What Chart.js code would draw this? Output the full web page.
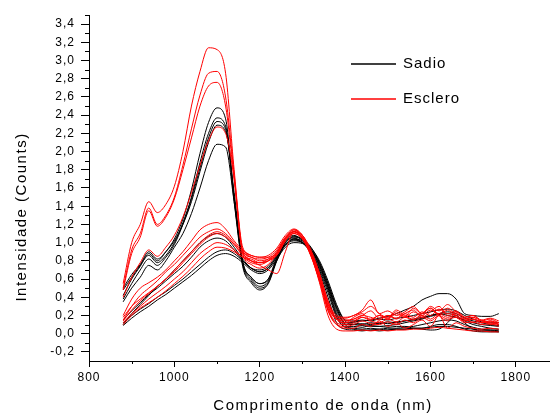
<!DOCTYPE html>
<html>
<head>
<meta charset="utf-8">
<script src="https://cdn.jsdelivr.net/npm/chart.js@4.4.1/dist/chart.umd.min.js"></script>
<style>
html, body { margin: 0; padding: 0; background: #fff; }
#wrap { width: 550px; height: 415px; }
</style>
</head>
<body>
<div id="wrap"><canvas id="chart" width="550" height="415"></canvas></div>
<script>
// wavelength grid (nm)
const wavelengths = [880, 900, 920, 940, 960, 980, 1000, 1020, 1040, 1060, 1080, 1100, 1120, 1140, 1160,
  1180, 1200, 1220, 1240, 1260, 1280, 1300, 1320, 1340, 1360, 1380, 1400, 1420, 1440, 1460, 1480,
  1500, 1520, 1540, 1560, 1580, 1600, 1620, 1640, 1660, 1680, 1700, 1720, 1740, 1760];

// Sadio (black)
const sadio1 = [0.42,0.6,0.74,0.88,0.8,0.9,1.04,1.26,1.58,1.98,2.32,2.48,2.36,1.5,0.76,0.58,0.5,0.56,0.82,1.02,1.08,1.02,0.9,0.72,0.48,0.2,0.07,
  0.06,0.05,0.06,0.05,0.06,0.06,0.07,0.08,0.1,0.12,0.14,0.15,0.14,0.1,0.07,0.05,0.04,0.04];
const sadio2 = [0.48,0.62,0.75,0.86,0.78,0.86,1.0,1.22,1.5,1.88,2.2,2.37,2.28,1.45,0.74,0.56,0.48,0.55,0.8,1.0,1.06,1.03,0.92,0.75,0.52,0.28,0.12,
  0.13,0.14,0.15,0.17,0.19,0.22,0.26,0.3,0.37,0.41,0.44,0.44,0.38,0.22,0.2,0.19,0.19,0.22];
const sadio3 = [0.38,0.55,0.7,0.82,0.75,0.84,0.98,1.2,1.48,1.82,2.15,2.33,2.25,1.5,0.78,0.6,0.52,0.58,0.82,1.0,1.07,1.04,0.95,0.78,0.55,0.3,0.15,
  0.14,0.15,0.14,0.16,0.15,0.17,0.18,0.2,0.22,0.24,0.26,0.27,0.25,0.2,0.16,0.13,0.12,0.12];
const sadio4 = [0.5,0.65,0.76,0.9,0.82,0.9,1.02,1.2,1.45,1.78,2.1,2.29,2.22,1.55,0.8,0.62,0.55,0.6,0.84,1.02,1.05,1.0,0.88,0.68,0.4,0.12,0.05,
  0.04,0.03,0.04,0.03,0.04,0.05,0.05,0.06,0.06,0.07,0.08,0.08,0.07,0.06,0.05,0.04,0.04,0.03];
const sadio5 = [0.35,0.5,0.62,0.75,0.7,0.8,0.95,1.1,1.32,1.6,1.9,2.08,2.05,1.45,0.78,0.62,0.55,0.6,0.8,0.98,1.04,1.02,0.94,0.8,0.58,0.32,0.14,
  0.1,0.09,0.08,0.08,0.07,0.08,0.08,0.06,0.05,0.04,0.05,0.12,0.2,0.12,0.05,0.03,0.03,0.02];
const sadio6 = [0.1,0.22,0.32,0.42,0.52,0.6,0.7,0.8,0.9,1.0,1.07,1.1,1.06,0.95,0.82,0.72,0.68,0.72,0.85,0.98,1.04,1.0,0.9,0.7,0.45,0.18,0.08,
  0.08,0.07,0.09,0.08,0.09,0.1,0.12,0.14,0.16,0.19,0.21,0.22,0.2,0.14,0.1,0.08,0.06,0.05];
const sadio7 = [0.15,0.25,0.34,0.43,0.5,0.58,0.66,0.74,0.84,0.95,1.02,1.05,1.02,0.92,0.8,0.72,0.7,0.74,0.86,0.98,1.03,1.0,0.92,0.74,0.5,0.22,0.1,
  0.1,0.11,0.1,0.12,0.11,0.13,0.14,0.16,0.18,0.2,0.22,0.24,0.22,0.17,0.14,0.12,0.1,0.09];
const sadio8 = [0.12,0.2,0.27,0.33,0.4,0.46,0.53,0.6,0.68,0.76,0.84,0.9,0.92,0.88,0.8,0.72,0.68,0.72,0.84,0.97,1.02,1.0,0.93,0.76,0.52,0.25,0.12,
  0.12,0.1,0.12,0.11,0.13,0.12,0.14,0.15,0.17,0.2,0.22,0.2,0.18,0.15,0.12,0.1,0.09,0.08];
const sadio9 = [0.09,0.17,0.24,0.3,0.37,0.43,0.5,0.57,0.64,0.72,0.8,0.86,0.88,0.85,0.78,0.7,0.66,0.7,0.82,0.95,1.0,0.99,0.92,0.78,0.55,0.28,0.1,
  0.05,0.04,0.04,0.05,0.04,0.05,0.05,0.06,0.06,0.08,0.1,0.1,0.08,0.05,0.03,0.02,0.02,0.02];

// Esclero (red)
const esclero1 = [0.55,1.0,1.2,1.45,1.33,1.42,1.62,2.0,2.5,2.88,3.14,3.12,2.86,1.8,0.95,0.86,0.84,0.84,0.88,1.04,1.14,1.08,0.88,0.62,0.3,0.16,0.14,
  0.16,0.2,0.18,0.15,0.2,0.17,0.22,0.18,0.24,0.2,0.27,0.22,0.25,0.18,0.2,0.15,0.17,0.14];
const esclero2 = [0.5,0.92,1.1,1.38,1.2,1.3,1.5,1.85,2.25,2.62,2.86,2.88,2.6,1.75,0.92,0.84,0.8,0.82,0.86,1.02,1.12,1.06,0.86,0.6,0.28,0.12,0.1,
  0.12,0.18,0.14,0.12,0.16,0.13,0.18,0.15,0.2,0.16,0.22,0.18,0.2,0.14,0.16,0.12,0.13,0.1];
const esclero3 = [0.48,0.88,1.06,1.35,1.18,1.28,1.48,1.8,2.15,2.5,2.72,2.76,2.5,1.7,0.9,0.82,0.78,0.8,0.86,1.02,1.1,1.04,0.85,0.58,0.25,0.1,0.08,
  0.1,0.14,0.11,0.1,0.13,0.1,0.15,0.12,0.18,0.14,0.2,0.16,0.18,0.12,0.13,0.1,0.11,0.08];
const esclero4 = [0.4,0.62,0.78,0.92,0.85,0.95,1.08,1.28,1.55,1.85,2.12,2.27,2.2,1.7,0.88,0.76,0.72,0.76,0.88,1.05,1.12,1.05,0.9,0.66,0.36,0.16,0.12,
  0.18,0.22,0.15,0.2,0.17,0.24,0.19,0.28,0.22,0.3,0.25,0.32,0.24,0.18,0.2,0.14,0.16,0.12];
const esclero5 = [0.2,0.38,0.5,0.56,0.62,0.7,0.8,0.9,1.02,1.14,1.2,1.22,1.15,1.02,0.92,0.86,0.84,0.86,0.94,1.08,1.15,1.08,0.9,0.65,0.35,0.2,0.18,
  0.2,0.26,0.37,0.22,0.25,0.2,0.24,0.3,0.22,0.28,0.2,0.26,0.18,0.14,0.16,0.12,0.14,0.12];
const esclero6 = [0.15,0.3,0.42,0.5,0.58,0.68,0.76,0.86,0.96,1.06,1.12,1.15,1.1,1.0,0.9,0.84,0.82,0.84,0.92,1.06,1.14,1.06,0.88,0.6,0.3,0.16,0.15,
  0.16,0.2,0.25,0.17,0.2,0.16,0.22,0.26,0.18,0.24,0.3,0.2,0.22,0.16,0.18,0.12,0.14,0.1];
const esclero7 = [0.18,0.3,0.38,0.45,0.52,0.6,0.68,0.78,0.88,0.98,1.06,1.1,1.06,0.98,0.88,0.8,0.78,0.8,0.88,1.04,1.12,1.05,0.86,0.58,0.26,0.1,0.06,
  0.06,0.1,0.08,0.14,0.08,0.12,0.06,0.1,0.15,0.08,0.2,0.06,0.12,0.08,0.06,0.05,0.06,0.05];
const esclero8 = [0.12,0.22,0.3,0.38,0.45,0.52,0.6,0.68,0.78,0.88,0.95,1.0,0.98,0.92,0.84,0.78,0.76,0.8,0.9,1.04,1.1,1.04,0.86,0.56,0.2,0.05,0.03,
  0.03,0.04,0.03,0.04,0.03,0.04,0.04,0.05,0.05,0.06,0.07,0.06,0.05,0.04,0.03,0.03,0.02,0.02];
const esclero9 = [0.1,0.2,0.28,0.34,0.4,0.47,0.55,0.63,0.72,0.82,0.9,0.95,0.94,0.9,0.84,0.8,0.78,0.82,0.9,1.05,1.12,1.05,0.88,0.62,0.32,0.18,0.17,
  0.2,0.24,0.3,0.22,0.18,0.26,0.2,0.16,0.22,0.28,0.2,0.14,0.24,0.18,0.12,0.15,0.1,0.12];
const esclero10 = [0.14,0.26,0.36,0.44,0.52,0.6,0.7,0.8,0.9,1.0,1.08,1.12,1.08,0.98,0.86,0.8,0.75,0.7,0.66,0.9,1.12,1.08,0.92,0.66,0.34,0.16,0.12,
  0.14,0.18,0.16,0.2,0.16,0.22,0.18,0.24,0.2,0.26,0.22,0.28,0.2,0.16,0.18,0.14,0.12,0.1];

const sadioSeries = [sadio1, sadio2, sadio3, sadio4, sadio5, sadio6, sadio7, sadio8, sadio9];
const escleroSeries = [esclero1, esclero2, esclero3, esclero4, esclero5, esclero6, esclero7, esclero8, esclero9, esclero10];

// axes
const xTicks = [800, 1000, 1200, 1400, 1600, 1800];
const xMinor = [900, 1100, 1300, 1500, 1700];
const yTicks = [-0.2, 0, 0.2, 0.4, 0.6, 0.8, 1.0, 1.2, 1.4, 1.6, 1.8, 2.0, 2.2, 2.4, 2.6, 2.8, 3.0, 3.2, 3.4];
const yMinor = [-0.1, 0.1, 0.3, 0.5, 0.7, 0.9, 1.1, 1.3, 1.5, 1.7, 1.9, 2.1, 2.3, 2.5, 2.7, 2.9, 3.1, 3.3, 3.5];
const legendItems = [{ label: 'Sadio', color: '#000000' }, { label: 'Esclero', color: '#ff0000' }];
const xTitle = 'Comprimento de onda (nm)';
const yTitle = 'Intensidade (Counts)';

const FONT = '"Liberation Sans", Arial, sans-serif';
Chart.defaults.font.family = FONT;
Chart.defaults.color = '#000';

function toPoints(vals) {
  return vals.map((v, i) => ({ x: wavelengths[i], y: v }));
}

const datasets = [];
sadioSeries.forEach((s, i) => datasets.push({ label: 'Sadio ' + (i + 1), data: toPoints(s), borderColor: '#000', order: 1 }));
escleroSeries.forEach((s, i) => datasets.push({ label: 'Esclero ' + (i + 1), data: toPoints(s), borderColor: '#ff0000', order: 0 }));

const extras = {
  id: 'extras',
  beforeDraw(chart) {
    chart.ctx.letterSpacing = '1px';
  },
  afterDraw(chart) {
    const ctx = chart.ctx, x = chart.scales.x, y = chart.scales.y;
    ctx.save();
    ctx.strokeStyle = '#000';
    ctx.lineWidth = 1;
    ctx.beginPath();
    xMinor.forEach(v => {
      const px = Math.round(x.getPixelForValue(v)) + 0.5;
      ctx.moveTo(px, y.bottom); ctx.lineTo(px, y.bottom + 3);
    });
    yMinor.forEach(v => {
      const py = Math.round(y.getPixelForValue(v)) + 0.5;
      ctx.moveTo(x.left, py); ctx.lineTo(x.left - 4, py);
    });
    ctx.stroke();

    ctx.fillStyle = '#000';
    ctx.font = '15px ' + FONT;
    ctx.letterSpacing = '1.5px';
    ctx.textAlign = 'center';
    ctx.textBaseline = 'middle';
    ctx.fillText(xTitle, 323, 406);
    ctx.save();
    ctx.translate(22, 217);
    ctx.rotate(-Math.PI / 2);
    ctx.fillText(yTitle, 0, 0);
    ctx.restore();

    // legend
    ctx.font = '15px ' + FONT;
    ctx.letterSpacing = '1px';
    ctx.textAlign = 'left';
    legendItems.forEach((it, i) => {
      const ly = 64 + i * 35;
      ctx.strokeStyle = it.color;
      ctx.lineWidth = 1.5;
      ctx.beginPath();
      ctx.moveTo(351, ly); ctx.lineTo(396, ly);
      ctx.stroke();
      ctx.fillStyle = '#000';
      ctx.fillText(it.label, 403, ly);
    });
    ctx.restore();
  }
};

new Chart(document.getElementById('chart'), {
  type: 'line',
  data: { datasets },
  options: {
    responsive: false,
    animation: false,
    layout: { padding: { top: 15, right: 0, left: 0, bottom: 0 } },
    elements: {
      point: { radius: 0 },
      line: { borderWidth: 1, cubicInterpolationMode: 'monotone' }
    },
    plugins: { legend: { display: false }, tooltip: { enabled: false } },
    scales: {
      x: {
        type: 'linear', min: 800, max: 1880,
        afterBuildTicks: s => { s.ticks = xTicks.map(v => ({ value: v })); },
        afterFit: s => { s.height = 54; },
        grid: { drawOnChartArea: false, tickLength: 6, color: '#000', tickColor: '#000' },
        border: { color: '#000', width: 1 },
        ticks: { font: { size: 12 }, padding: 3, maxRotation: 0, callback: v => String(v) }
      },
      y: {
        type: 'linear', min: -0.3, max: 3.5,
        afterBuildTicks: s => { s.ticks = yTicks.map(v => ({ value: v })); },
        afterFit: s => { s.width = 89; },
        grid: { drawOnChartArea: false, tickLength: 8, color: '#000', tickColor: '#000' },
        border: { color: '#000', width: 1 },
        ticks: { font: { size: 12 }, padding: 6, callback: v => v.toFixed(1).replace('.', ',') }
      }
    }
  },
  plugins: [extras]
});
</script>
</body>
</html>
